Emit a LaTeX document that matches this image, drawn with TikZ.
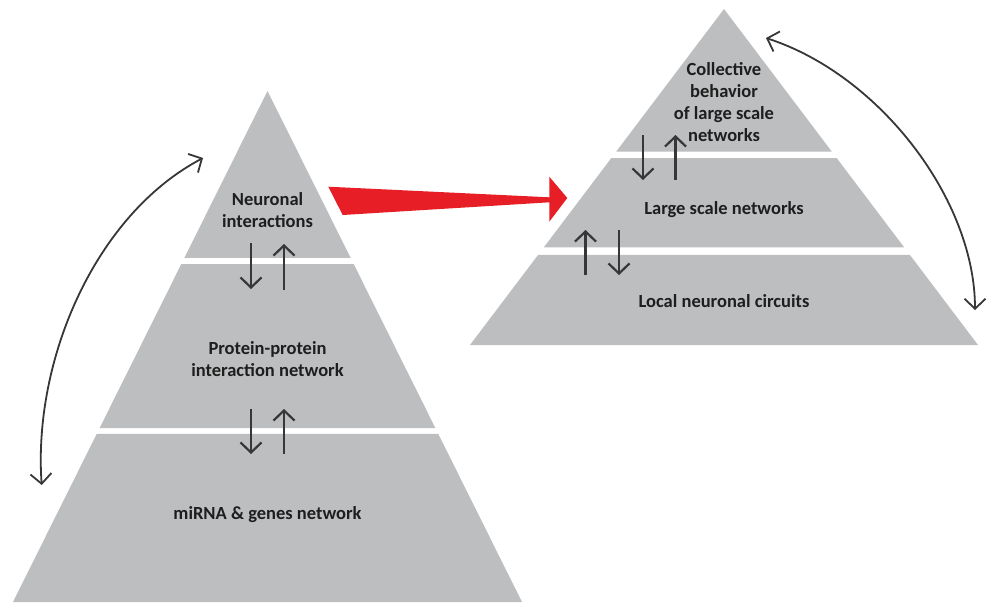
\documentclass[tikz,border=0pt]{standalone}
\usepackage{fontspec}
\setmainfont{Carlito}
\usetikzlibrary{arrows.meta,calc}
\definecolor{pyr}{RGB}{189,190,192}
\definecolor{redarr}{RGB}{232,30,38}
\definecolor{arr}{RGB}{55,55,55}
\definecolor{txt}{RGB}{30,30,30}
\begin{document}
\begin{tikzpicture}[x=1pt,y=-1pt,
  band/.style={fill=pyr},
  lbl/.style={font=\fontsize{18.5}{22}\selectfont\bfseries, text=txt, align=center, inner sep=0pt},
  flow/.style={draw=arr, line width=2.2pt, -{Straight Barb[length=10pt,width=21pt]}},
  swing/.style={draw=arr, line width=1.8pt, {Straight Barb[length=10pt,width=21pt]}-{Straight Barb[length=10pt,width=21pt]}}]
\useasboundingbox (0,0) rectangle (991,603);
\fill[white] (0,0) rectangle (991,603);
% left pyramid
\coordinate (LA) at (267.5,91);
\coordinate (LL) at (13,602);
\coordinate (LR) at (522,602);
\fill[band] (LA) -- ($(LA)!0.3268!(LL)$) -- ($(LA)!0.3268!(LR)$) -- cycle;
\fill[band] ($(LA)!0.3386!(LL)$) -- ($(LA)!0.6595!(LL)$) -- ($(LA)!0.6595!(LR)$) -- ($(LA)!0.3386!(LR)$) -- cycle;
\fill[band] ($(LA)!0.6712!(LL)$) -- (LL) -- (LR) -- ($(LA)!0.6712!(LR)$) -- cycle;
% right pyramid
\coordinate (RA) at (724,9);
\coordinate (RL) at (470,345);
\coordinate (RR) at (978,345);
\fill[band] (RA) -- ($(RA)!0.4241!(RL)$) -- ($(RA)!0.4241!(RR)$) -- cycle;
\fill[band] ($(RA)!0.4435!(RL)$) -- ($(RA)!0.7098!(RL)$) -- ($(RA)!0.7098!(RR)$) -- ($(RA)!0.4435!(RR)$) -- cycle;
\fill[band] ($(RA)!0.7321!(RL)$) -- (RL) -- (RR) -- ($(RA)!0.7321!(RR)$) -- cycle;
% labels
\node[lbl] (neur) at (267.5,210) {Neuronal\\interactions};
\node[lbl] (ppi) at (267.5,359) {Protein-protein\\interaction network};
\node[lbl] (mirna) at (267.5,515) {miRNA \& genes network};
\node[lbl] (coll) at (724,102) {Collective\\behavior\\of large scale\\networks};
\node[lbl] (lsn) at (724,210) {Large scale networks};
\node[lbl] (lnc) at (724,301.5) {Local neuronal circuits};
% inner arrows left
\coordinate (a1t) at (251,243); \coordinate (a1b) at (251,289);
\coordinate (a2t) at (284,244); \coordinate (a2b) at (284,290);
\coordinate (a3t) at (251,409); \coordinate (a3b) at (251,454);
\coordinate (a4t) at (284,409); \coordinate (a4b) at (284,454);
\draw[flow] (a1t) -- (a1b);
\draw[flow] (a2b) -- (a2t);
\draw[flow] (a3t) -- (a3b);
\draw[flow] (a4b) -- (a4t);
% inner arrows right
\coordinate (b1t) at (643,135); \coordinate (b1b) at (643,180);
\coordinate (b2t) at (675.5,135); \coordinate (b2b) at (675.5,180);
\coordinate (b3t) at (585.5,230); \coordinate (b3b) at (585.5,275);
\coordinate (b4t) at (619,230); \coordinate (b4b) at (619,275);
\draw[flow] (b1t) -- (b1b);
\draw[flow] (b2b) -- (b2t);
\draw[flow] (b3b) -- (b3t);
\draw[flow] (b4t) -- (b4b);
% red arrow
\coordinate (r1) at (328.3,186.7);
\coordinate (r2) at (549.3,197.3);
\coordinate (r3) at (549.3,176.7);
\coordinate (r4) at (567.3,198);
\coordinate (r5) at (549.3,221.7);
\coordinate (r6) at (549.3,202.3);
\coordinate (r7) at (342.7,215);
\fill[redarr] (r1) -- (r2) -- (r3) -- (r4) -- (r5) -- (r6) -- (r7) -- cycle;
% curved double arrows
\coordinate (c1a) at (203,158);
\coordinate (c1b) at (41.7,485);
\draw[swing] (c1a) .. controls (95,215) and (33,360) .. (c1b);
\coordinate (c2a) at (766,38);
\coordinate (c2b) at (975,310);
\draw[swing] (c2a) .. controls (880,75) and (975,200) .. (c2b);
\end{tikzpicture}
\end{document}
